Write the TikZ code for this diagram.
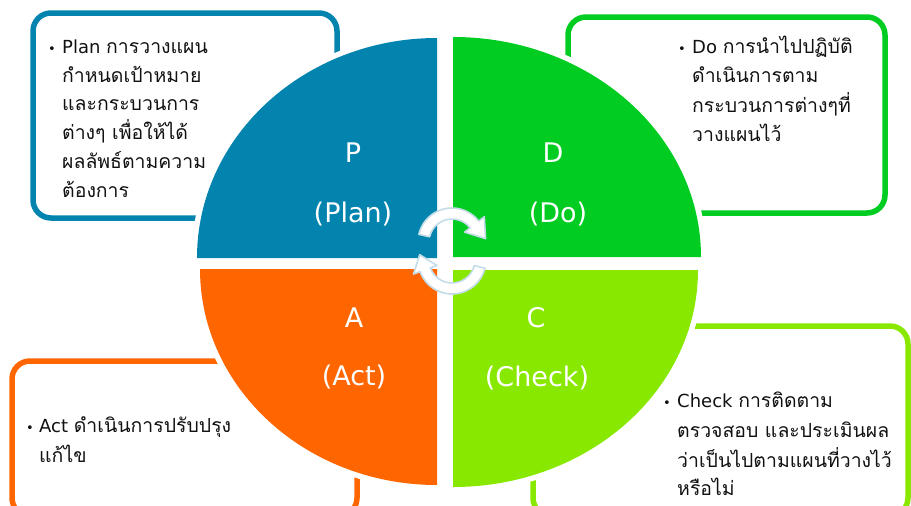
\documentclass[tikz,border=0pt]{standalone}
\usepackage{fontspec}
\setmainfont{DejaVu Sans}
\newfontfamily\thai[Script=Thai,Scale=1.08]{Loma}
\usetikzlibrary{calc}
\definecolor{cplan}{HTML}{0284AF}
\definecolor{cdo}{HTML}{00CC22}
\definecolor{cact}{HTML}{FF6600}
\definecolor{ccheck}{HTML}{88E800}
\definecolor{arrowline}{HTML}{C4DCE8}
\definecolor{textc}{HTML}{111111}
\tikzset{
  boxline/.style={line width=5.5pt, rounded corners=18pt},
  quadedge/.style={draw=white, line width=11pt},
  bodytext/.style={anchor=base west, inner sep=0pt, font=\fontsize{18}{22}\selectfont, text=textc},
  bulletmark/.style={anchor=base, inner sep=0pt, font=\fontsize{13}{16}\selectfont, text=textc},
  biglabel/.style={anchor=base, inner sep=0pt, text=white, font=\fontsize{27}{30}\selectfont},
  cyclearrow/.style={fill=white, draw=arrowline, line width=1.6pt, line join=round},
}
\begin{document}
\begin{tikzpicture}[x=1pt,y=-1pt]
\useasboundingbox (0,0) rectangle (911,506);
\clip (0,0) rectangle (911,506);
% text boxes
\draw[boxline, draw=cplan] (33,13) rectangle (337,218);
\draw[boxline, draw=cdo] (568,17) rectangle (885,213);
\draw[boxline, draw=cact] (12,361) rectangle (357,516);
\draw[boxline, draw=ccheck] (533,326) rectangle (908,516);
% quadrant white edges
\draw[quadedge] (437,258) -- (197,258) arc[start angle=180, end angle=270, x radius=240, y radius=220] -- cycle;
\draw[quadedge] (453,257) -- (701,257) arc[start angle=0, end angle=-90, x radius=248, y radius=220] -- cycle;
\draw[quadedge] (437,269) -- (200,269) arc[start angle=180, end angle=90, x radius=237, y radius=216] -- cycle;
\draw[quadedge] (453,270) -- (698,270) arc[start angle=0, end angle=90, x radius=245, y radius=217] -- cycle;
% quadrants
\fill[cplan] (437,258) -- (197,258) arc[start angle=180, end angle=270, x radius=240, y radius=220] -- cycle;
\fill[cdo] (453,257) -- (701,257) arc[start angle=0, end angle=-90, x radius=248, y radius=220] -- cycle;
\fill[cact] (437,269) -- (200,269) arc[start angle=180, end angle=90, x radius=237, y radius=216] -- cycle;
\fill[ccheck] (453,270) -- (698,270) arc[start angle=0, end angle=90, x radius=245, y radius=217] -- cycle;
% cycle arrows
\coordinate (uc) at (452,242);
\coordinate (lc) at (452,260);
\draw[cyclearrow] ($(uc)+(193:34)$) arc[start angle=193, end angle=322, radius=34]
  -- ($(uc)+(322:41)$) -- ($(uc)+(322:28.5)+(52:18)$) -- ($(uc)+(322:16)$)
  -- ($(uc)+(322:23)$) arc[start angle=322, end angle=193, radius=23] -- cycle;
\draw[cyclearrow] ($(lc)+(14:34)$) arc[start angle=14, end angle=160, radius=34]
  -- ($(lc)+(160:41)$) -- ($(lc)+(160:28.5)+(250:16)$) -- ($(lc)+(160:16)$)
  -- ($(lc)+(160:23)$) arc[start angle=160, end angle=14, radius=23] -- cycle;
% big labels
\node[biglabel] (lp) at (353,162) {P};
\node[biglabel] (lpl) at (353,222) {(Plan)};
\node[biglabel] (ld) at (553,162) {D};
\node[biglabel] (ldo) at (558,222) {(Do)};
\node[biglabel] (la) at (354,327) {A};
\node[biglabel] (lact) at (354,385) {(Act)};
\node[biglabel] (lcc) at (536,327) {C};
\node[biglabel] (lch) at (537,386) {(Check)};
% Plan text
\node[bulletmark] (pb) at (52,53) {•};
\node[bodytext] (p1) at (62,53) {Plan \thai การวางแผน};
\node[bodytext] (p2) at (62,82) {\thai กำหนดเป้าหมาย};
\node[bodytext] (p3) at (62,110.5) {\thai และกระบวนการ};
\node[bodytext] (p4) at (62,139) {\thai ต่างๆ เพื่อให้ได้};
\node[bodytext] (p5) at (62,168) {\thai ผลลัพธ์ตามความ};
\node[bodytext] (p6) at (62,197) {\thai ต้องการ};
% Do text
\node[bulletmark] (db) at (682,53) {•};
\node[bodytext] (d1) at (692,53) {Do \thai การนำไปปฏิบัติ};
\node[bodytext] (d2) at (692,82.5) {\thai ดำเนินการตาม};
\node[bodytext] (d3) at (692,112) {\thai กระบวนการต่างๆที่};
\node[bodytext] (d4) at (692,141.5) {\thai วางแผนไว้};
% Act text
\node[bulletmark] (ab) at (30,432) {•};
\node[bodytext] (a1) at (39,432) {Act \thai ดำเนินการปรับปรุง};
\node[bodytext] (a2) at (39,462) {\thai แก้ไข};
% Check text
\node[bulletmark] (cb) at (667,407) {•};
\node[bodytext] (c1) at (677,407) {Check \thai การติดตาม};
\node[bodytext] (c2) at (677,437) {\thai ตรวจสอบ และประเมินผล};
\node[bodytext] (c3) at (677,467) {\thai ว่าเป็นไปตามแผนที่วางไว้};
\node[bodytext] (c4) at (677,495) {\thai หรือไม่};
\end{tikzpicture}
\end{document}
